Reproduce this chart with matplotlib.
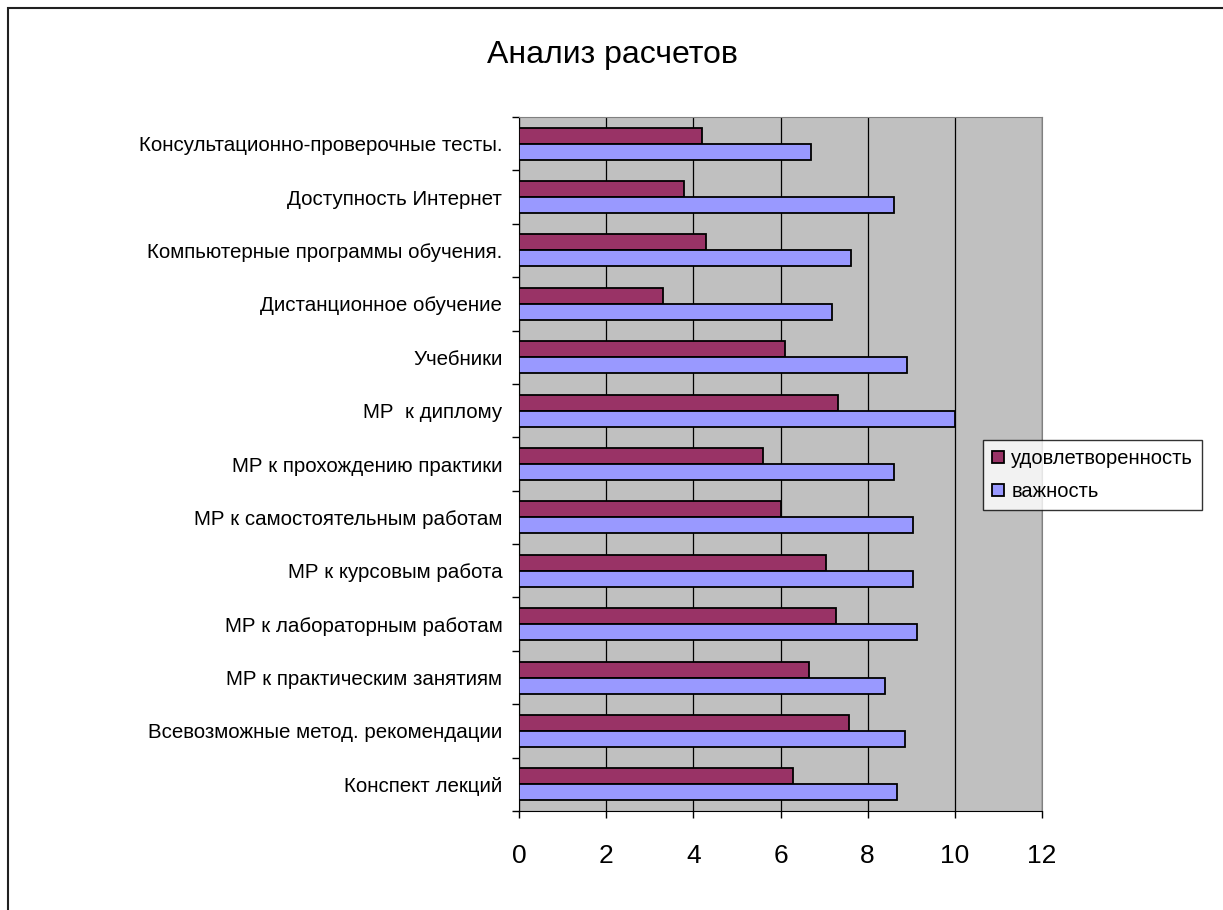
import matplotlib
matplotlib.use("Agg")
import matplotlib.pyplot as plt
from matplotlib.patches import Rectangle, Patch
import numpy as np

plt.rcParams['font.family'] = ['Liberation Sans', 'DejaVu Sans']

categories = [
    "Конспект лекций",
    "Всевозможные метод. рекомендации",
    "МР к практическим занятиям",
    "МР к лабораторным работам",
    "МР к курсовым работа",
    "МР к самостоятельным работам",
    "МР к прохождению практики",
    "МР  к диплому",
    "Учебники",
    "Дистанционное обучение",
    "Компьютерные программы обучения.",
    "Доступность Интернет",
    "Консультационно-проверочные тесты.",
]
satisfaction = [6.28, 7.57, 6.66, 7.27, 7.05, 6.02, 5.59, 7.31, 6.11, 3.30, 4.30, 3.78, 4.21]
importance = [8.68, 8.86, 8.39, 9.13, 9.04, 9.04, 8.60, 10.0, 8.91, 7.18, 7.62, 8.60, 6.71]
series_names = ["удовлетворенность", "важность"]
xticks = [0, 2, 4, 6, 8, 10, 12]
title = "Анализ расчетов"

c_red = "#993366"
c_blue = "#9999FF"

W, H = 1223, 910
fig = plt.figure(figsize=(W / 100, H / 100), dpi=100)
fig.patches.append(Rectangle((8 / W, -0.1), 1.2, 1 - 8 / H + 0.1, transform=fig.transFigure,
                             fill=False, edgecolor="#202020", linewidth=1.5))

ax = fig.add_axes([519 / W, 1 - 811 / H, (1042 - 519) / W, (811 - 117) / H])
ax.set_facecolor("#C0C0C0")

y = np.arange(len(categories))
h = 0.3
ax.barh(y + h / 2, satisfaction, height=h, color=c_red, edgecolor="black", linewidth=1.3, zorder=3)
ax.barh(y - h / 2, importance, height=h, color=c_blue, edgecolor="black", linewidth=1.3, zorder=3)

ax.set_xlim(0, 12)
ax.set_ylim(-0.5, len(categories) - 0.5)
ax.set_xticks(xticks)
ax.set_xticklabels([str(t) for t in xticks], fontsize=19)
ax.xaxis.grid(True, color="black", linewidth=0.9, zorder=1)
ax.set_axisbelow(True)

ax.set_yticks(y)
ax.set_yticklabels(categories, fontsize=14.8)
ax.set_yticks(np.arange(-0.5, len(categories), 1), minor=True)
ax.tick_params(axis="y", which="major", length=0, pad=12)
ax.tick_params(axis="y", which="minor", length=5, width=1, direction="out")
ax.tick_params(axis="x", which="major", length=5, width=1, direction="out", pad=19)

for s in ["top", "right"]:
    ax.spines[s].set_color("#808080")
for s in ["left", "bottom"]:
    ax.spines[s].set_color("black")

fig.text(612 / W, 1 - 55 / H, title, ha="center", va="center", fontsize=23)

handles = [Patch(facecolor=c_red, edgecolor="black", linewidth=1.3),
           Patch(facecolor=c_blue, edgecolor="black", linewidth=1.3)]
leg = fig.legend(handles, series_names, loc="upper left",
                 bbox_to_anchor=(983 / W, 1 - 440 / H), fontsize=14.5,
                 frameon=True, fancybox=False, edgecolor="black",
                 handlelength=0.6, handleheight=0.6, handletextpad=0.35,
                 borderpad=0.45, labelspacing=0.7, borderaxespad=0)
leg.get_frame().set_linewidth(1)

fig.savefig("out.png", dpi=100)
